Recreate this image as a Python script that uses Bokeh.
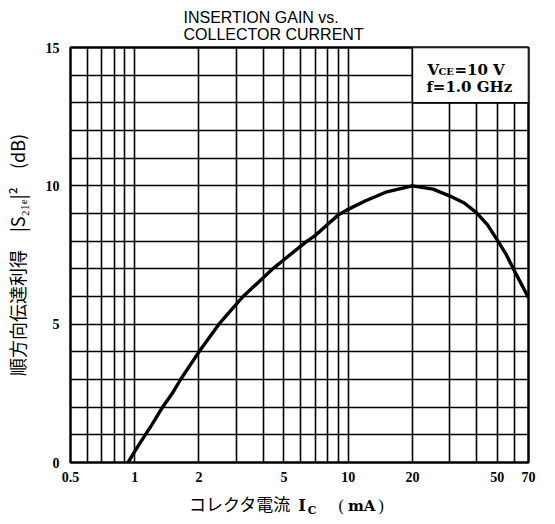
from bokeh.plotting import figure
from bokeh.layouts import column
from bokeh.models import FixedTicker, Range1d, Label, NumeralTickFormatter, Div
from bokeh.embed import file_html
from bokeh.resources import INLINE

# ---- data ----
current_mA = [0.93, 1.0, 1.12, 1.2, 1.35, 1.5, 1.64, 2.0, 2.48, 3.0, 3.22, 4.0, 4.43, 5.0,
              6.0, 6.42, 7.0, 8.0, 9.0, 10, 12, 15, 20, 25, 30, 35, 40, 45, 50, 55, 60, 65, 70]
gain_dB = [0.0, 0.4, 1.0, 1.35, 2.0, 2.5, 3.0, 4.0, 5.0, 5.73, 6.0, 6.68, 7.0, 7.33,
           7.82, 8.0, 8.2, 8.6, 8.95, 9.15, 9.45, 9.77, 10.0, 9.88, 9.63, 9.38, 9.02, 8.59,
           8.04, 7.52, 6.94, 6.43, 5.96]

x_ticks = [0.5, 1, 2, 5, 10, 20, 50, 70]
x_grid = [0.5, 0.6, 0.7, 0.8, 0.9, 1, 2, 3, 4, 5, 6, 7, 8, 9, 10, 20, 30, 40, 50, 60, 70]
y_ticks = [0, 5, 10, 15]
y_grid = list(range(0, 16))

# condition box (annotation) extent
box_x = (20, 70)
box_y = (13, 15)

serif = "Liberation Serif"
dserif = "DejaVu Serif"
cjk = "Noto Sans CJK JP"

p = figure(width=539, height=488, x_axis_type="log",
           x_range=Range1d(0.5, 70), y_range=Range1d(0, 15),
           output_backend="svg", toolbar_location=None,
           min_border_left=64, min_border_right=11,
           min_border_top=47, min_border_bottom=26)

p.title.text = "INSERTION GAIN vs.\nCOLLECTOR CURRENT"
p.title.align = "left"
p.title.offset = 113
p.title.text_font = "Liberation Sans"
p.title.text_font_size = "16px"
p.title.text_font_style = "normal"
p.title.text_color = "black"

p.outline_line_color = "black"
p.outline_line_width = 2.5
p.outline_line_alpha = 1.0

for g in (p.xgrid, p.ygrid):
    g.grid_line_color = "black"
    g.grid_line_width = 1.6
    g.grid_line_alpha = 1.0
p.xgrid.ticker = FixedTicker(ticks=x_grid)
p.ygrid.ticker = FixedTicker(ticks=y_grid)

p.xaxis.ticker = FixedTicker(ticks=x_ticks)
p.xaxis.formatter = NumeralTickFormatter(format="0.[0]")
p.yaxis.ticker = FixedTicker(ticks=y_ticks)
for ax in (p.xaxis, p.yaxis):
    ax.axis_line_color = None
    ax.major_tick_line_color = None
    ax.minor_tick_line_color = None
    ax.major_label_text_font = serif
    ax.major_label_text_font_style = "bold"
    ax.major_label_text_font_size = "14px"
    ax.major_label_text_color = "black"
p.xaxis.major_label_standoff = 3
p.yaxis.major_label_standoff = 5

p.yaxis.axis_label = "順方向伝達利得　|S₂₁ₑ|²　(dB)"
p.yaxis.axis_label_text_font = cjk
p.yaxis.axis_label_text_font_size = "18px"
p.yaxis.axis_label_text_font_style = "normal"
p.yaxis.axis_label_text_color = "black"
p.yaxis.axis_label_standoff = 13

# curve
p.line(current_mA, gain_dB, line_color="black", line_width=3.4, line_join="round")

# condition box
p.quad(left=[box_x[0]], right=[box_x[1]], bottom=[box_y[0]], top=[box_y[1]],
       fill_color="white", line_color="black", line_width=1.6)

def lab(text, x, y, xo, yo, font, size, style="normal"):
    p.add_layout(Label(x=x, y=y, x_offset=xo, y_offset=yo, text=text,
                       text_font=font, text_font_size=size, text_font_style=style,
                       text_color="black", text_align="left", text_baseline="alphabetic"))

# box texts (anchored at box top-left corner)
lab("V", box_x[0], box_y[1], 15, -22, dserif, "15px", "bold")
lab("CE", box_x[0], box_y[1], 26, -24, dserif, "10px", "bold")
lab("=10 V", box_x[0], box_y[1], 42, -22, dserif, "15px", "bold")
lab("f=1.0 GHz", box_x[0], box_y[1], 14, -39, dserif, "15px", "bold")

# x axis title (HTML, so that the subscript C stays real text)
xtitle_html = (
    '<div style="padding-left:184px;line-height:22px;white-space:nowrap;color:black;">'
    '<span style="font-family:\'Noto Sans CJK JP\';font-size:17px;">コレクタ電流</span>'
    '<span style="font-family:\'DejaVu Serif\';font-weight:bold;font-size:16px;margin-left:8px;">I'
    '<span style="font-size:11px;position:relative;top:3px;margin-left:2px;">C</span></span>'
    '<span style="font-family:\'Liberation Serif\';font-size:16px;margin-left:22px;">(</span>'
    '<span style="font-family:\'DejaVu Serif\';font-weight:bold;font-size:15px;margin-left:4px;">mA</span>'
    '<span style="font-family:\'Liberation Serif\';font-size:16px;margin-left:3px;">)</span>'
    '</div>'
)
xtitle = Div(text=xtitle_html, width=539, height=20)

layout = column(p, xtitle, spacing=0)

open("out.html", "w").write(file_html(layout, INLINE))
